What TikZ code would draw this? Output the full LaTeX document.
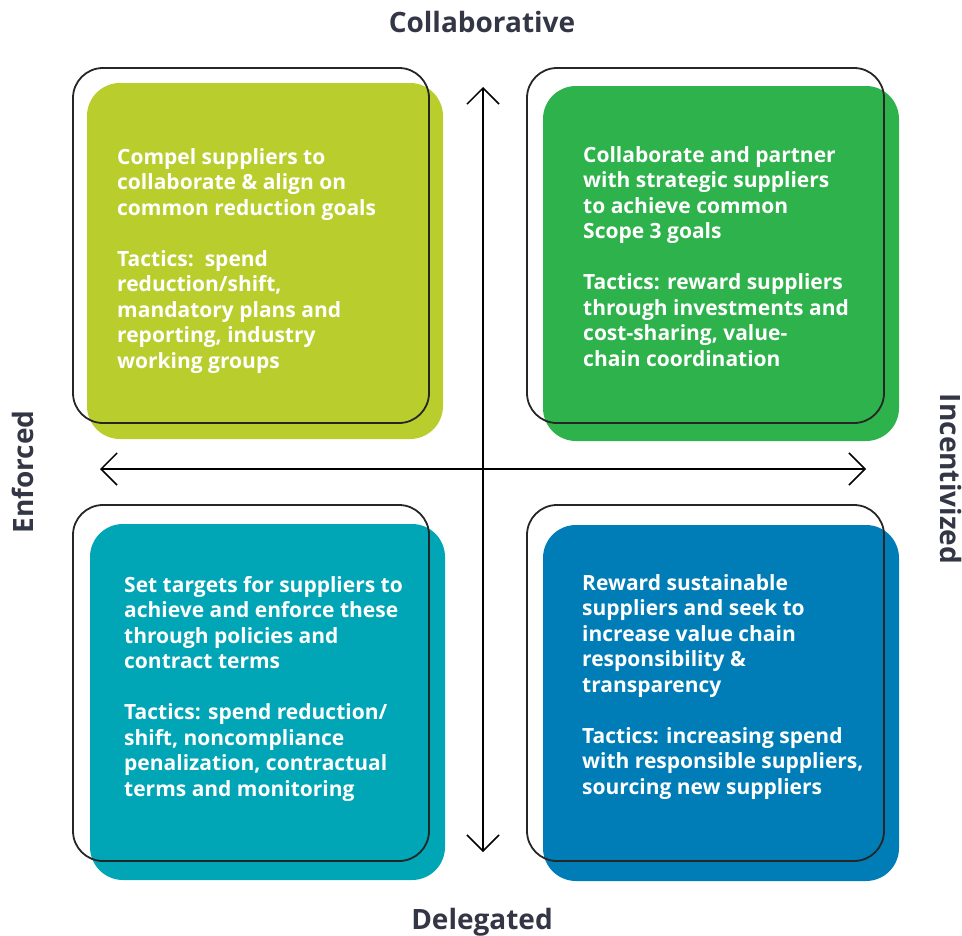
\documentclass[tikz,border=0pt]{standalone}
\usepackage{fontspec}
\setmainfont{Open Sans}
\usetikzlibrary{arrows.meta}

\definecolor{limefill}{RGB}{185,206,45}
\definecolor{greenfill}{RGB}{46,178,75}
\definecolor{tealfill}{RGB}{0,165,182}
\definecolor{bluefill}{RGB}{0,125,183}
\definecolor{axislabel}{RGB}{51,55,69}

\tikzset{
  frame/.style={draw=black!85, line width=1.8bp, rounded corners=30bp},
  tile/.style={rounded corners=33bp},
  blurb/.style={anchor=north west, inner sep=0pt, align=left, text=white,
    font=\fontsize{21bp}{25.5bp}\selectfont\bfseries},
  axis/.style={line width=1.5bp, {Straight Barb[length=16bp,width=32bp]}-{Straight Barb[length=16bp,width=32bp]}},
  pole/.style={text=axislabel, inner sep=0pt, font=\fontsize{28bp}{32bp}\selectfont\bfseries}
}

\begin{document}
\begin{tikzpicture}[x=1bp, y=-1bp]
\useasboundingbox (0,0) rectangle (962,936);

% top left
\fill[limefill, tile] (87,83) rectangle (443,439);
\draw[frame] (73,68) rectangle (429,423);
\node[blurb] (compel) at (117,148) {Compel suppliers to\\collaborate \& align on\\common reduction goals\\[25.5bp]
Tactics:\ \ spend\\reduction/shift,\\mandatory plans and\\reporting, industry\\working groups};

% top right
\fill[greenfill, tile] (543,86) rectangle (899,441);
\draw[frame] (527,68) rectangle (884,423);
\node[blurb] (partner) at (583,146) {Collaborate and partner\\with strategic suppliers\\to achieve common\\Scope 3 goals\\[25.5bp]
Tactics: reward suppliers\\through investments and\\cost-sharing, value-\\chain coordination};

% bottom left
\fill[tealfill, tile] (90,524) rectangle (445,880);
\draw[frame] (73,505) rectangle (429,861);
\node[blurb] (targets) at (124,576) {Set targets for suppliers to\\achieve and enforce these\\through policies and\\contract terms\\[25.5bp]
Tactics: spend reduction/\\shift, noncompliance\\penalization, contractual\\terms and monitoring};

% bottom right
\fill[bluefill, tile] (543,525) rectangle (899,881);
\draw[frame] (527,505) rectangle (884,861);
\node[blurb] (reward) at (582,574) {Reward sustainable\\suppliers and seek to\\increase value chain\\responsibility \&\\transparency\\[25.5bp]
Tactics: increasing spend\\with responsible suppliers,\\sourcing new suppliers};

% axes
\coordinate (top) at (483,87);
\coordinate (bottom) at (483,852);
\coordinate (left) at (100,469);
\coordinate (right) at (866,469);
\draw[axis] (bottom) -- (top);
\draw[axis] (left) -- (right);

\node[pole, anchor=base] (collab) at (482,32) {Collaborative};
\node[pole, anchor=base] (deleg) at (482,929) {Delegated};
\node[pole, anchor=base, rotate=90] (enforced) at (33,472) {Enforced};
\node[pole, anchor=base, rotate=-90] (incent) at (940,479) {Incentivized};
\end{tikzpicture}
\end{document}
